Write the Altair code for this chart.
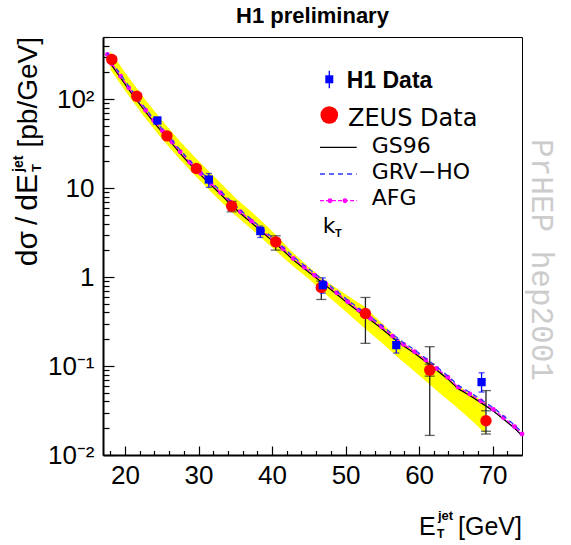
import altair as alt
import pandas as pd

# ---------------- data ----------------
afg_x = [17.6, 18.2, 19.4, 20.5, 21.6, 22.8, 23.9, 25.1, 26.4, 27.5, 28.8, 30.3, 31.7, 33.0,
         34.3, 35.7, 37.2, 38.7, 40.1, 41.5, 42.9, 44.4, 45.8, 47.3, 48.8, 50.3, 51.8, 53.4,
         54.9, 56.4, 57.9, 59.4, 60.9, 62.4, 63.9, 65.3, 66.9, 68.4, 70.1, 71.5, 73.0, 74.0]
afg_y = [318, 250, 181, 134, 101, 75, 57.5, 44, 33, 25.6, 19.5, 14.6, 11.3, 8.9,
         6.95, 5.42, 4.26, 3.32, 2.62, 2.08, 1.62, 1.29, 1.05, 0.84, 0.667, 0.528, 0.425, 0.343,
         0.276, 0.217, 0.175, 0.145, 0.117, 0.094, 0.0747, 0.058, 0.0485, 0.0404, 0.0326, 0.0263, 0.0208, 0.0172]
gs96_y = [305, 240, 174, 129, 97, 72, 55.2, 42.2, 31.7, 24.6, 18.7, 14.0, 10.85, 8.54,
          6.67, 5.2, 4.09, 3.19, 2.52, 2.0, 1.555, 1.24, 1.01, 0.806, 0.64, 0.507, 0.408, 0.329,
          0.265, 0.208, 0.168, 0.139, 0.112, 0.09, 0.0717, 0.0557, 0.0466, 0.0388, 0.0313, 0.0252, 0.02, 0.0165]
grv_y = [332, 261, 189, 140, 105.5, 78.4, 60.1, 46, 34.5, 26.8, 20.4, 15.3, 11.8, 9.3,
         7.26, 5.66, 4.45, 3.47, 2.74, 2.17, 1.69, 1.35, 1.1, 0.878, 0.697, 0.552, 0.444, 0.358,
         0.288, 0.227, 0.183, 0.152, 0.122, 0.098, 0.078, 0.0606, 0.0507, 0.0422, 0.0341, 0.0275, 0.0217, 0.018]

band_x = [18.0, 20.0, 22.5, 25.0, 27.5, 30.0, 32.5, 35.0, 37.5, 40.0, 42.5, 45.0, 47.5, 50.0,
          52.5, 55.0, 57.5, 60.0, 62.5, 65.0, 67.5, 69.0]
band_hi = [345, 200, 105, 58, 33.5, 20.2, 12.6, 7.8, 5.15, 3.3, 2.0, 1.3, 0.88, 0.64,
           0.47, 0.30, 0.19, 0.135, 0.093, 0.062, 0.046, 0.039]
band_lo = [215, 124, 65, 36, 20.8, 12.6, 7.8, 4.95, 3.3, 2.15, 1.4, 0.95, 0.62, 0.41,
           0.27, 0.18, 0.118, 0.079, 0.052, 0.035, 0.023, 0.0175]

zeus_x = [18.2, 21.6, 25.7, 29.7, 34.5, 40.5, 46.7, 52.7, 61.45, 69.1]
zeus_y = [279, 108, 38.7, 16.6, 6.28, 2.49, 0.766, 0.39, 0.090, 0.0243]
zeus_lo = [262, 101, 36.2, 15.5, 5.42, 2.01, 0.56, 0.18, 0.0166, 0.0172]
zeus_hi = [297, 115, 41.3, 17.8, 7.1, 2.91, 0.90, 0.59, 0.165, 0.053]
zeus_in_x = [61.45, 69.1]
zeus_in_lo = [0.077, 0.0185]
zeus_in_hi = [0.105, 0.0314]

h1_x = [24.4, 31.4, 38.4, 46.9, 56.9, 68.5]
h1_y = [57.6, 12.5, 3.29, 0.81, 0.172, 0.066]
h1_lo = [53, 10.2, 2.79, 0.66, 0.14, 0.051]
h1_hi = [62.5, 14.6, 3.74, 0.98, 0.20, 0.084]

x_major = [20, 30, 40, 50, 60, 70]
x_minor = [18, 22, 24, 26, 28, 32, 34, 36, 38, 42, 44, 46, 48, 52, 54, 56, 58, 62, 64, 66, 68, 72]
y_major = [0.01, 0.1, 1, 10, 100]
y_major_labels = ["10\u207b\u00b2", "10\u207b\u00b9", "1", "10", "10\u00b2"]
y_minor = [0.02, 0.03, 0.04, 0.05, 0.06, 0.07, 0.08, 0.09,
           0.2, 0.3, 0.4, 0.5, 0.6, 0.7, 0.8, 0.9,
           2, 3, 4, 5, 6, 7, 8, 9,
           20, 30, 40, 50, 60, 70, 80, 90,
           200, 300, 400, 500]

legend_labels = ["H1 Data", "ZEUS Data", "GS96", "GRV\u2212HO", "AFG", "k", "T"]
title_text = "H1 preliminary"
xtitle_parts = ["E", "jet", "T", "[GeV]"]
ytitle_parts = ["d\u03c3\u2009/\u2009dE", "jet", "T", "[pb/GeV]"]
watermark = "PrHEP hep2001"

# ---------------- frames ----------------
afg = pd.DataFrame({"x": afg_x, "y": afg_y})
gs96 = pd.DataFrame({"x": afg_x, "y": gs96_y})
grv = pd.DataFrame({"x": afg_x, "y": grv_y})
band = pd.DataFrame({"x": band_x, "lo": band_lo, "hi": band_hi})
zeus = pd.DataFrame({"x": zeus_x, "y": zeus_y, "lo": zeus_lo, "hi": zeus_hi})
zeus_in = pd.DataFrame({"x": zeus_in_x, "lo": zeus_in_lo, "hi": zeus_in_hi})
h1 = pd.DataFrame({"x": h1_x, "y": h1_y, "lo": h1_lo, "hi": h1_hi})

W, H = 419, 418
FONT = "Liberation Sans"
xs = alt.Scale(domain=[17, 74], nice=False, zero=False)
ys = alt.Scale(type="log", domain=[0.01, 500], nice=False)

label_expr = " : ".join(
    f"abs(datum.value - {v}) < {v * 0.01} ? '{lab}'" for v, lab in zip(y_major, y_major_labels)
) + " : ''"

ax_x_major = alt.Axis(values=x_major, tickSize={"expr": "-9"}, labelPadding=16, labelFont=FONT,
                      labelFontSize=26, labelColor="black", tickColor="black", tickWidth=1.2,
                      domainColor="black", domainWidth=2, grid=False, title=None, orient="bottom",
                      labelFlush=False, labelOverlap=False, format="d")
ax_x_minor = alt.Axis(values=x_minor, tickSize={"expr": "-4.5"}, labels=False, domain=False,
                      tickColor="black", tickWidth=1.2, grid=False, title=None, orient="bottom")
ax_y_major = alt.Axis(values=y_major, tickSize={"expr": "-11"}, labelPadding=20, labelFont=FONT,
                      labelFontSize=26, labelColor="black", tickColor="black", tickWidth=1.2,
                      domainColor="black", domainWidth=2, grid=False, title=None, orient="left",
                      labelFlush=False, labelOverlap=False, labelExpr=label_expr)
ax_y_minor = alt.Axis(values=y_minor, tickSize={"expr": "-6"}, labels=False, domain=False,
                      tickColor="black", tickWidth=1.2, grid=False, title=None, orient="left")

layers = []

# yellow kT band (carries the main axes)
layers.append(alt.Chart(band).mark_area(color="#ffff00", opacity=1).encode(
    x=alt.X("x:Q", scale=xs, axis=ax_x_major),
    y=alt.Y("hi:Q", scale=ys, axis=ax_y_major),
    y2="lo:Q"))

# GS96 black line (carries the minor ticks)
layers.append(alt.Chart(gs96).mark_line(color="black", strokeWidth=1.3).encode(
    x=alt.X("x:Q", scale=xs, axis=ax_x_minor),
    y=alt.Y("y:Q", scale=ys, axis=ax_y_minor)))

# AFG magenta dashed line with dots
layers.append(alt.Chart(afg).mark_line(color="#ff00ff", strokeWidth=1.3, strokeDash=[4, 2]).encode(
    x=alt.X("x:Q", scale=xs, axis=None), y=alt.Y("y:Q", scale=ys, axis=None)))
layers.append(alt.Chart(afg).mark_circle(color="#ff00ff", size=24, opacity=1).encode(
    x=alt.X("x:Q", scale=xs, axis=None), y=alt.Y("y:Q", scale=ys, axis=None)))

# GRV-HO blue dashed
layers.append(alt.Chart(grv).mark_line(color="#3333ff", strokeWidth=1.3, strokeDash=[5, 4]).encode(
    x=alt.X("x:Q", scale=xs, axis=None), y=alt.Y("y:Q", scale=ys, axis=None)))

# ZEUS error bars
layers.append(alt.Chart(zeus).mark_rule(color="#222222", strokeWidth=1.3).encode(
    x=alt.X("x:Q", scale=xs, axis=None), y=alt.Y("lo:Q", scale=ys, axis=None), y2="hi:Q"))
for col in ["lo", "hi"]:
    layers.append(alt.Chart(zeus).mark_tick(color="#222222", orient="horizontal", size=10, thickness=1.3).encode(
        x=alt.X("x:Q", scale=xs, axis=None), y=alt.Y(f"{col}:Q", scale=ys, axis=None)))
    layers.append(alt.Chart(zeus_in).mark_tick(color="#222222", orient="horizontal", size=10, thickness=1.3).encode(
        x=alt.X("x:Q", scale=xs, axis=None), y=alt.Y(f"{col}:Q", scale=ys, axis=None)))

# H1 error bars
layers.append(alt.Chart(h1).mark_rule(color="#0000ff", strokeWidth=1.3).encode(
    x=alt.X("x:Q", scale=xs, axis=None), y=alt.Y("lo:Q", scale=ys, axis=None), y2="hi:Q"))
for col in ["lo", "hi"]:
    layers.append(alt.Chart(h1).mark_tick(color="#0000ff", orient="horizontal", size=6, thickness=1.3).encode(
        x=alt.X("x:Q", scale=xs, axis=None), y=alt.Y(f"{col}:Q", scale=ys, axis=None)))

# markers
layers.append(alt.Chart(zeus).mark_point(shape="circle", filled=True, color="#ff0000", size=130, opacity=1).encode(
    x=alt.X("x:Q", scale=xs, axis=None), y=alt.Y("y:Q", scale=ys, axis=None)))
layers.append(alt.Chart(h1).mark_square(color="#0000ff", size=68, opacity=1).encode(
    x=alt.X("x:Q", scale=xs, axis=None), y=alt.Y("y:Q", scale=ys, axis=None)))

# ---------------- legend (pixel positions relative to the plot origin) ----------------
one = pd.DataFrame({"k": [0]})


def txt(label, x, y, size, font=FONT, weight="normal", align="left", angle=0, color="black", baseline="alphabetic"):
    return alt.Chart(pd.DataFrame({"t": [label]})).mark_text(
        align=align, baseline=baseline, font=font, fontSize=size, fontWeight=weight,
        angle=angle, color=color).encode(x=alt.value(x), y=alt.value(y), text="t:N")


# H1 Data
layers.append(alt.Chart(one).mark_rule(color="#0000ff", strokeWidth=1.3).encode(
    x=alt.value(226.3), y=alt.value(33.7), y2=alt.value(51.3)))
layers.append(alt.Chart(one).mark_square(color="#0000ff", size=64, opacity=1).encode(
    x=alt.value(226.3), y=alt.value(42.3)))
layers.append(txt(legend_labels[0], 243.7, 50.5, 23, weight="bold"))
# ZEUS Data
layers.append(alt.Chart(one).mark_point(shape="circle", filled=True, color="#ff0000", size=314, opacity=1).encode(
    x=alt.value(226.3), y=alt.value(78)))
layers.append(txt(legend_labels[1], 245, 88.5, 24, font="DejaVu Sans"))
# GS96
layers.append(alt.Chart(one).mark_rule(color="black", strokeWidth=1.3).encode(
    x=alt.value(217), x2=alt.value(253.7), y=alt.value(110.3)))
layers.append(txt(legend_labels[2], 268.7, 116, 22, font="DejaVu Sans"))
# GRV-HO
layers.append(alt.Chart(one).mark_rule(color="#3333ff", strokeWidth=1.3, strokeDash=[5, 4]).encode(
    x=alt.value(217), x2=alt.value(253.7), y=alt.value(137)))
layers.append(txt(legend_labels[3], 268.7, 141.7, 22, font="DejaVu Sans"))
# AFG
layers.append(alt.Chart(one).mark_rule(color="#ff00ff", strokeWidth=1.3, strokeDash=[4, 2]).encode(
    x=alt.value(217), x2=alt.value(253.7), y=alt.value(163.7)))
layers.append(alt.Chart(one).mark_circle(color="#ff00ff", size=24, opacity=1).encode(
    x=alt.value(227), y=alt.value(163.7)))
layers.append(alt.Chart(one).mark_circle(color="#ff00ff", size=24, opacity=1).encode(
    x=alt.value(242), y=alt.value(163.7)))
layers.append(txt(legend_labels[4], 268.7, 168.3, 22, font="DejaVu Sans"))
# k_T
layers.append(txt(legend_labels[5], 219.7, 196.3, 22, font="DejaVu Sans"))
layers.append(txt(legend_labels[6], 232, 200, 11, weight="bold"))

# ---------------- title, axis titles, watermark ----------------
layers.append(txt(title_text, W / 2, -14, 22, weight="bold", align="center"))

layers.append(txt(xtitle_parts[0], 316, 498, 25))
layers.append(txt(xtitle_parts[1], 335, 483, 13, weight="bold"))
layers.append(txt(xtitle_parts[2], 334, 501, 12, weight="bold"))
layers.append(txt(xtitle_parts[3], 419, 498, 25, align="right"))

# y title, read upward: "dσ/dE" (bottom) then jet/T then "[pb/GeV]" (top)
layers.append(txt(ytitle_parts[3], -66, 0, 28, angle=270, align="right"))
layers.append(txt(ytitle_parts[1], -80, 135, 14, weight="bold", angle=270))
layers.append(txt(ytitle_parts[2], -62, 135, 13, weight="bold", angle=270))
layers.append(txt(ytitle_parts[0], -66, 137, 30, angle=270, align="right"))

layers.append(txt(watermark, 438, 223, 31, font="Liberation Mono", align="center",
                  baseline="middle", angle=90, color="#cccccc"))

chart = alt.layer(*layers).properties(
    width=W, height=H,
    autosize=alt.AutoSizeParams(type="none"),
    padding={"left": 103, "top": 37, "right": 49, "bottom": 90},
    background="white",
).resolve_axis(x="independent", y="independent").configure_view(stroke="black", strokeWidth=1)

chart.save("out.html", embed_options={"renderer": "svg", "actions": False})
